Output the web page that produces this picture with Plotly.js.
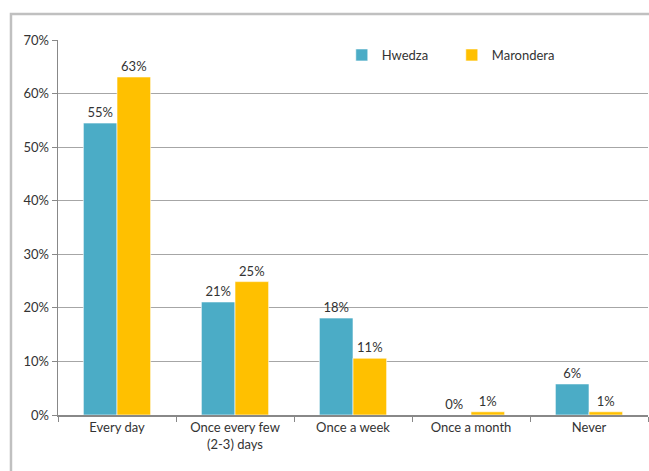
<!DOCTYPE html>
<html>
<head>
<meta charset="utf-8">
<script src="https://cdn.plot.ly/plotly-3.0.1.min.js"></script>
<style>html,body{margin:0;padding:0;background:#fff;}#chart{width:649px;height:471px;}</style>
</head>
<body>
<div id="chart"></div>
<script>
var categories = ["Every day", "Once every few<br>(2-3) days", "Once a week", "Once a month", "Never"];
var hwedza = [54.5, 21.1, 18.1, 0, 5.8];
var marondera = [63.1, 24.9, 10.6, 0.6, 0.6];
var hwedzaLabels = ["55%", "21%", "18%", "0%", "6%"];
var maronderaLabels = ["63%", "25%", "11%", "1%", "1%"];
var yTicks = [0, 10, 20, 30, 40, 50, 60, 70];
var yTickText = yTicks.map(function (v) { return v + "%"; });

var font = "Lato, 'Open Sans', sans-serif";
var traces = [
  {type: "bar", name: "Hwedza", x: categories, y: hwedza, text: hwedzaLabels,
   textposition: "outside", cliponaxis: false, hoverinfo: "none",
   textfont: {family: font, size: 13, color: "#333"},
   marker: {color: "#4BACC6", line: {color: "#ffffff", width: 0.6}}},
  {type: "bar", name: "Marondera", x: categories, y: marondera, text: maronderaLabels,
   textposition: "outside", cliponaxis: false, hoverinfo: "none",
   textfont: {family: font, size: 13, color: "#333"},
   marker: {color: "#FFC000", line: {color: "#ffffff", width: 0.6}}}
];
var layout = {
  width: 649, height: 471,
  margin: {l: 58, r: 1, t: 40, b: 56},
  paper_bgcolor: "#fff", plot_bgcolor: "#fff",
  font: {family: font, size: 13, color: "#333"},
  barmode: "group", bargap: 0.43, bargroupgap: 0,
  showlegend: true,
  legend: {orientation: "h", x: 0.481, y: 0.96, xanchor: "left", yanchor: "middle",
           font: {family: font, size: 13, color: "#333"}, itemwidth: 30, tracegroupgap: 0,
           entrywidth: 65, entrywidthmode: "pixels",
           bgcolor: "rgba(0,0,0,0)"},
  xaxis: {type: "category", showline: true, linecolor: "#888", linewidth: 1.5,
          ticks: "outside", tickson: "boundaries", ticklen: 5, tickcolor: "#888",
          showgrid: false, tickfont: {family: font, size: 13, color: "#333"}},
  yaxis: {range: [0, 70], tickmode: "array", tickvals: yTicks, ticktext: yTickText,
          showline: true, linecolor: "#888",
          linewidth: 1.5, ticks: "outside", ticklen: 5, tickcolor: "#888",
          showgrid: true, gridcolor: "#A6A6A6", gridwidth: 1, zeroline: false,
          tickfont: {family: font, size: 13, color: "#333"}},
  shapes: [{type: "rect", xref: "paper", yref: "paper", x0: -0.0797, x1: 1.5, y0: -0.5, y1: 1.0693,
            line: {color: "#C0C0C0", width: 2.5}, fillcolor: "rgba(0,0,0,0)", layer: "below"}]
};
Plotly.newPlot("chart", traces, layout, {displayModeBar: false, staticPlot: true});
</script>
</body>
</html>
